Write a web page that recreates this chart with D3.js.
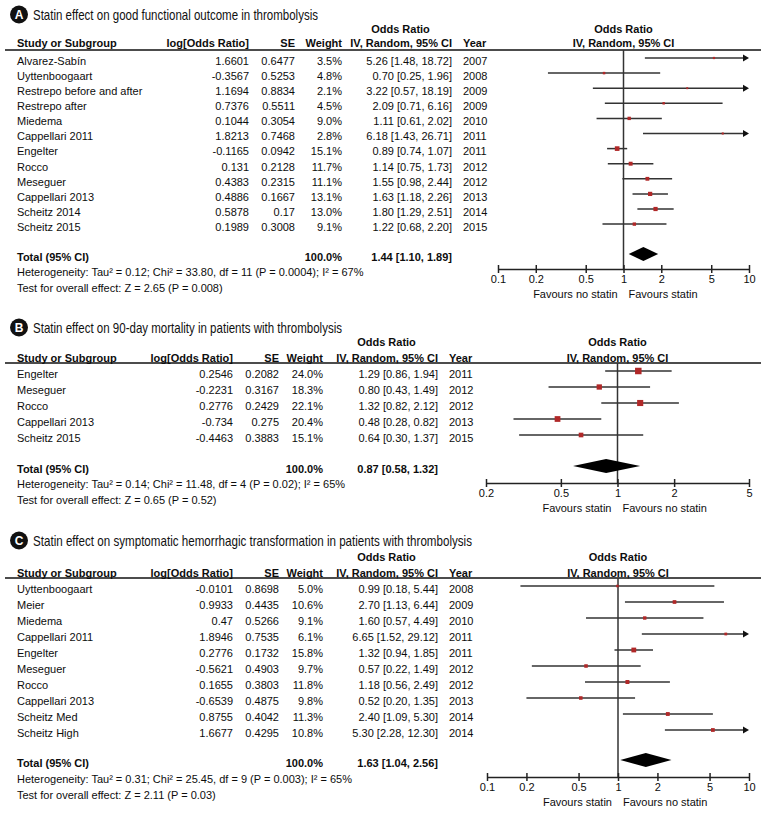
<!DOCTYPE html>
<html><head><meta charset="utf-8">
<script src="https://cdn.jsdelivr.net/npm/d3@7"></script>
<style>
body{margin:0;background:#fff;}
svg text{font-family:"Liberation Sans",Arial,Helvetica,sans-serif;fill:#0d0d0d;}
</style>
</head><body>
<svg id="chart" width="766" height="813"></svg>
<script>
// ---------- Panel A data ----------
const aTitle = "Statin effect on good functional outcome in thrombolysis";
const aStudies = ["Alvarez-Sabín","Uyttenboogaart","Restrepo before and after","Restrepo after","Miedema","Cappellari 2011","Engelter","Rocco","Meseguer","Cappellari 2013","Scheitz 2014","Scheitz 2015"];
const aLogOR = [1.6601,-0.3567,1.1694,0.7376,0.1044,1.8213,-0.1165,0.131,0.4383,0.4886,0.5878,0.1989];
const aSE = [0.6477,0.5253,0.8834,0.5511,0.3054,0.7468,0.0942,0.2128,0.2315,0.1667,0.17,0.3008];
const aWeight = [3.5,4.8,2.1,4.5,9.0,2.8,15.1,11.7,11.1,13.1,13.0,9.1];
const aOR = [5.26,0.70,3.22,2.09,1.11,6.18,0.89,1.14,1.55,1.63,1.80,1.22];
const aLo = [1.48,0.25,0.57,0.71,0.61,1.43,0.74,0.75,0.98,1.18,1.29,0.68];
const aHi = [18.72,1.96,18.19,6.16,2.02,26.71,1.07,1.73,2.44,2.26,2.51,2.20];
const aYear = [2007,2008,2009,2009,2010,2011,2011,2012,2012,2013,2014,2015];
const aTotal = [1.44,1.10,1.89];
const aHet = "Heterogeneity: Tau\u00B2 = 0.12; Chi\u00B2 = 33.80, df = 11 (P = 0.0004); I\u00B2 = 67%";
const aTest = "Test for overall effect: Z = 2.65 (P = 0.008)";
const aTicks = [0.1,0.2,0.5,1,2,5,10];
const aFavours = ["Favours no statin","Favours statin"];

// ---------- Panel B data ----------
const bTitle = "Statin effect on 90-day mortality in patients with thrombolysis";
const bStudies = ["Engelter","Meseguer","Rocco","Cappellari 2013","Scheitz 2015"];
const bLogOR = [0.2546,-0.2231,0.2776,-0.734,-0.4463];
const bSE = [0.2082,0.3167,0.2429,0.275,0.3883];
const bWeight = [24.0,18.3,22.1,20.4,15.1];
const bOR = [1.29,0.80,1.32,0.48,0.64];
const bLo = [0.86,0.43,0.82,0.28,0.30];
const bHi = [1.94,1.49,2.12,0.82,1.37];
const bYear = [2011,2012,2012,2013,2015];
const bTotal = [0.87,0.58,1.32];
const bHet = "Heterogeneity: Tau\u00B2 = 0.14; Chi\u00B2 = 11.48, df = 4 (P = 0.02); I\u00B2 = 65%";
const bTest = "Test for overall effect: Z = 0.65 (P = 0.52)";
const bTicks = [0.2,0.5,1,2,5];
const bFavours = ["Favours statin","Favours no statin"];

// ---------- Panel C data ----------
const cTitle = "Statin effect on symptomatic hemorrhagic transformation in patients with thrombolysis";
const cStudies = ["Uyttenboogaart","Meier","Miedema","Cappellari 2011","Engelter","Meseguer","Rocco","Cappellari 2013","Scheitz Med","Scheitz High"];
const cLogOR = [-0.0101,0.9933,0.47,1.8946,0.2776,-0.5621,0.1655,-0.6539,0.8755,1.6677];
const cSE = [0.8698,0.4435,0.5266,0.7535,0.1732,0.4903,0.3803,0.4875,0.4042,0.4295];
const cWeight = [5.0,10.6,9.1,6.1,15.8,9.7,11.8,9.8,11.3,10.8];
const cOR = [0.99,2.70,1.60,6.65,1.32,0.57,1.18,0.52,2.40,5.30];
const cLo = [0.18,1.13,0.57,1.52,0.94,0.22,0.56,0.20,1.09,2.28];
const cHi = [5.44,6.44,4.49,29.12,1.85,1.49,2.49,1.35,5.30,12.30];
const cYear = [2008,2009,2010,2011,2011,2012,2012,2013,2014,2014];
const cTotal = [1.63,1.04,2.56];
const cHet = "Heterogeneity: Tau\u00B2 = 0.31; Chi\u00B2 = 25.45, df = 9 (P = 0.003); I\u00B2 = 65%";
const cTest = "Test for overall effect: Z = 2.11 (P = 0.03)";
const cTicks = [0.1,0.2,0.5,1,2,5,10];
const cFavours = ["Favours statin","Favours no statin"];

// ---------- layout (positions only) ----------
const colsA = {name:17, logR:249, seR:295, wR:342, ciR:452, yearL:463};
const colsBC = {name:17, logR:233, seR:279, wR:323, ciR:438, yearL:449};
const panels = [
  {letter:"A", title:aTitle, studies:aStudies, logOR:aLogOR, se:aSE, weight:aWeight, or:aOR, lo:aLo, hi:aHi, year:aYear, total:aTotal, het:aHet, test:aTest, ticks:aTicks, favours:aFavours,
   L:{titleY:15, titleW:285, oddsY:29, headY:43, lineY:50, rowY0:61, rowStep:15.1, totalY:257, hetY:272, testY:288, axisY:269, xr:[498,749], cols:colsA}},
  {letter:"B", title:bTitle, studies:bStudies, logOR:bLogOR, se:bSE, weight:bWeight, or:bOR, lo:bLo, hi:bHi, year:bYear, total:bTotal, het:bHet, test:bTest, ticks:bTicks, favours:bFavours,
   L:{titleY:328, titleW:309, oddsY:342, headY:358, lineY:363, rowY0:374, rowStep:16, totalY:469, hetY:484, testY:500, axisY:483, xr:[486,749], cols:colsBC}},
  {letter:"C", title:cTitle, studies:cStudies, logOR:cLogOR, se:cSE, weight:cWeight, or:cOR, lo:cLo, hi:cHi, year:cYear, total:cTotal, het:cHet, test:cTest, ticks:cTicks, favours:cFavours,
   L:{titleY:541, titleW:439, oddsY:557, headY:573, lineY:578, rowY0:589, rowStep:16, totalY:763, hetY:779, testY:795, axisY:777, xr:[487,749], cols:colsBC}}
];

const svg = d3.select("#chart");
svg.append("rect").attr("width",766).attr("height",813).attr("fill","#fff");
const FS = 11;
const sizeScale = d3.scaleLinear().domain([0,24]).range([1.5,6.5]);

function txt(g, x, y, s, opts={}) {
  const t = g.append("text").attr("x",x).attr("y",y).attr("dy","0.35em")
    .attr("font-size",opts.size||FS).attr("font-weight",opts.bold?"bold":"normal")
    .attr("text-anchor",opts.anchor||"start").text(s);
  return t;
}

panels.forEach(p => {
  const L = p.L, C = L.cols;
  const g = svg.append("g");
  const x = d3.scaleLog().domain([p.ticks[0], p.ticks[p.ticks.length-1]]).range(L.xr);
  const y = d3.scaleLinear().domain([0,1]).range([L.rowY0, L.rowY0 + L.rowStep]);
  const dom = x.domain();

  // panel badge + title
  g.append("circle").attr("cx",19).attr("cy",L.titleY-0.5).attr("r",9).attr("fill","#111");
  g.append("text").attr("x",19).attr("y",L.titleY).attr("dy","0.36em").attr("text-anchor","middle")
    .attr("font-size",12).attr("font-weight","bold").style("fill","#fff").text(p.letter);
  g.append("text").attr("x",33).attr("y",L.titleY).attr("dy","0.35em").attr("font-size",14.5)
    .attr("textLength",L.titleW).attr("lengthAdjust","spacingAndGlyphs").style("fill","#111").text(p.title);

  // header
  const ciCenter = C.ciR - 51.5;
  const plotCenter = (L.xr[0]+L.xr[1])/2;
  txt(g, ciCenter, L.oddsY, "Odds Ratio", {bold:true, anchor:"middle"});
  txt(g, plotCenter, L.oddsY, "Odds Ratio", {bold:true, anchor:"middle"});
  txt(g, C.name, L.headY, "Study or Subgroup", {bold:true});
  txt(g, C.logR, L.headY, "log[Odds Ratio]", {bold:true, anchor:"end"});
  txt(g, C.seR, L.headY, "SE", {bold:true, anchor:"end"});
  txt(g, C.wR, L.headY, "Weight", {bold:true, anchor:"end"});
  txt(g, C.ciR, L.headY, "IV, Random, 95% CI", {bold:true, anchor:"end"});
  txt(g, C.yearL, L.headY, "Year", {bold:true});
  txt(g, plotCenter, L.headY, "IV, Random, 95% CI", {bold:true, anchor:"middle"});
  g.append("line").attr("x1",5).attr("x2",761).attr("y1",L.lineY).attr("y2",L.lineY)
    .attr("stroke","#111").attr("stroke-width",1.5);

  // vertical line at OR = 1
  g.append("line").attr("x1",x(1)).attr("x2",x(1)).attr("y1",L.lineY).attr("y2",L.axisY)
    .attr("stroke","#333").attr("stroke-width",1.5);

  // rows
  p.studies.forEach((s,i) => {
    const ty = y(i);
    txt(g, C.name, ty, s);
    txt(g, C.logR, ty, String(p.logOR[i]), {anchor:"end"});
    txt(g, C.seR, ty, String(p.se[i]), {anchor:"end"});
    txt(g, C.wR, ty, p.weight[i].toFixed(1)+"%", {anchor:"end"});
    txt(g, C.ciR, ty, p.or[i].toFixed(2)+" ["+p.lo[i].toFixed(2)+", "+p.hi[i].toFixed(2)+"]", {anchor:"end"});
    txt(g, C.yearL, ty, String(p.year[i]));

    const my = ty - 3;
    const lo = Math.max(p.lo[i], dom[0]), hi = Math.min(p.hi[i], dom[1]);
    const arrowR = p.hi[i] > dom[1], arrowL = p.lo[i] < dom[0];
    g.append("line").attr("x1",x(lo)).attr("x2",x(hi) - (arrowR?4:0)).attr("y1",my).attr("y2",my)
      .attr("stroke","#333").attr("stroke-width",1.5);
    if (arrowR) {
      const xe = x(hi);
      g.append("path").attr("d",`M${xe},${my} L${xe-6},${my-3.5} L${xe-6},${my+3.5} Z`).attr("fill","#111");
    }
    if (arrowL) {
      const xs = x(lo);
      g.append("path").attr("d",`M${xs},${my} L${xs+6},${my-3.5} L${xs+6},${my+3.5} Z`).attr("fill","#111");
    }
    const sz = sizeScale(p.weight[i]);
    g.append("rect").attr("x",x(p.or[i])-sz/2).attr("y",my-sz/2).attr("width",sz).attr("height",sz)
      .attr("fill","#b02828");
  });

  // total
  txt(g, C.name, L.totalY, "Total (95% CI)", {bold:true});
  txt(g, C.wR, L.totalY, "100.0%", {bold:true, anchor:"end"});
  txt(g, C.ciR, L.totalY, p.total[0].toFixed(2)+" ["+p.total[1].toFixed(2)+", "+p.total[2].toFixed(2)+"]", {bold:true, anchor:"end"});
  const dy = L.totalY - 3;
  g.append("path").attr("d",`M${x(p.total[1])},${dy} L${x(p.total[0])},${dy-7} L${x(p.total[2])},${dy} L${x(p.total[0])},${dy+7} Z`)
    .attr("fill","#000");
  txt(g, C.name, L.hetY, p.het);
  txt(g, C.name, L.testY, p.test);

  // axis
  const axis = d3.axisBottom(x).tickValues(p.ticks).tickFormat(d => String(d)).tickSize(4).tickSizeOuter(0);
  const ag = g.append("g").attr("transform",`translate(0,${L.axisY})`).call(axis);
  ag.select(".domain").attr("stroke","#222").attr("stroke-width",1.5);
  ag.selectAll(".tick line").attr("y1",-4).attr("y2",4).attr("stroke","#222").attr("stroke-width",1.5);
  ag.selectAll(".tick text").attr("y",6).attr("font-size",FS).attr("font-family","Liberation Sans, Arial, sans-serif").style("fill","#0d0d0d");
  txt(g, x(1)-6, L.axisY+25, p.favours[0], {anchor:"end"});
  txt(g, x(1)+5, L.axisY+25, p.favours[1]);
});
</script>
</body></html>
